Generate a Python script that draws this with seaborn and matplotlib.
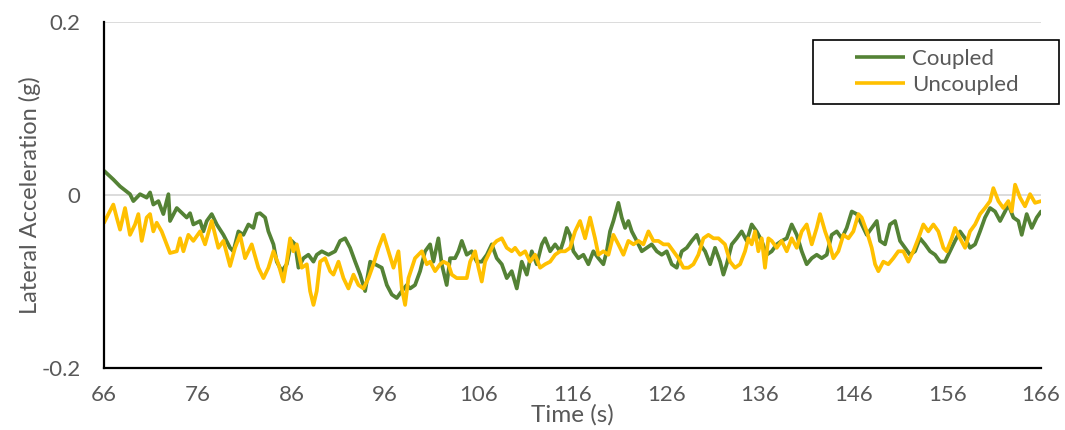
import matplotlib
matplotlib.use("Agg")
import matplotlib.pyplot as plt
from matplotlib.legend_handler import HandlerLine2D
import seaborn as sns
import pandas as pd

# Lateral acceleration traces (time in s, acceleration in g)
coupled_t = [66.0, 66.99, 67.71, 68.77, 69.13, 69.84, 70.55, 70.91, 71.26, 71.80, 72.33, 72.87, 73.04, 73.76,
             74.82, 75.18, 75.53, 76.25, 76.60, 76.96, 77.49, 78.03, 78.74, 79.45, 79.80, 80.34, 80.87, 81.41,
             81.94, 82.30, 82.65, 83.19, 83.54, 84.08, 84.43, 84.97, 85.50, 86.03, 86.39, 86.75, 87.28, 87.81,
             88.35, 88.70, 89.24, 89.95, 90.66, 91.19, 91.73, 92.26, 92.80, 93.33, 93.86, 94.40, 94.93, 95.64,
             96.18, 96.71, 97.24, 97.78, 98.31, 98.66, 99.19, 99.73, 100.26, 100.80, 101.15, 101.68, 102.04,
             102.57, 102.93, 103.46, 103.82, 104.18, 104.71, 105.24, 105.78, 106.31, 106.85, 107.38, 107.91,
             108.45, 108.98, 109.51, 110.05, 110.58, 111.12, 111.65, 112.18, 112.72, 113.07, 113.61, 114.14,
             114.67, 115.03, 115.39, 115.73, 116.09, 116.62, 117.16, 117.69, 118.22, 118.76, 119.29, 119.65,
             120.00, 120.36, 120.89, 121.25, 121.61, 121.96, 122.32, 122.85, 123.39, 123.92, 124.45, 124.99,
             125.52, 126.05, 126.59, 127.12, 127.66, 128.19, 128.72, 129.26, 129.61, 130.15, 130.68, 131.21,
             131.75, 132.10, 132.45, 132.99, 133.52, 134.05, 134.59, 135.12, 135.65, 136.19, 136.72, 137.26,
             137.79, 138.32, 138.86, 139.39, 139.93, 140.46, 140.99, 141.53, 142.06, 142.59, 143.13, 143.66,
             144.20, 144.73, 145.26, 145.80, 146.33, 146.86, 147.40, 147.93, 148.47, 148.81, 149.35, 149.88,
             150.42, 150.95, 151.48, 152.02, 152.55, 153.08, 153.62, 154.15, 154.69, 155.22, 155.75, 156.29,
             156.82, 157.35, 157.89, 158.42, 158.96, 159.49, 160.02, 160.56, 161.09, 161.63, 162.16, 162.51,
             163.05, 163.58, 163.94, 164.47, 165.01, 165.54, 166.0]
coupled_g = [0.028, 0.018, 0.010, 0.001, -0.007, 0.001, -0.003, 0.003, -0.011, -0.007, -0.022, 0.001, -0.030,
             -0.015, -0.026, -0.021, -0.034, -0.030, -0.042, -0.030, -0.022, -0.034, -0.046, -0.061, -0.065,
             -0.042, -0.046, -0.034, -0.038, -0.022, -0.021, -0.026, -0.042, -0.057, -0.077, -0.088, -0.080,
             -0.053, -0.057, -0.084, -0.073, -0.069, -0.077, -0.069, -0.065, -0.069, -0.065, -0.053, -0.050,
             -0.061, -0.077, -0.092, -0.111, -0.077, -0.080, -0.084, -0.104, -0.115, -0.119, -0.111, -0.104,
             -0.108, -0.104, -0.088, -0.065, -0.057, -0.077, -0.050, -0.080, -0.104, -0.073, -0.073, -0.065,
             -0.053, -0.069, -0.065, -0.077, -0.077, -0.069, -0.057, -0.073, -0.080, -0.096, -0.088, -0.108,
             -0.077, -0.092, -0.065, -0.080, -0.057, -0.050, -0.065, -0.057, -0.065, -0.053, -0.038, -0.046,
             -0.065, -0.073, -0.069, -0.080, -0.065, -0.073, -0.080, -0.065, -0.042, -0.030, -0.009, -0.026,
             -0.038, -0.030, -0.042, -0.053, -0.065, -0.061, -0.057, -0.065, -0.069, -0.065, -0.080, -0.084,
             -0.065, -0.061, -0.053, -0.046, -0.057, -0.065, -0.080, -0.061, -0.077, -0.092, -0.080, -0.057,
             -0.050, -0.042, -0.053, -0.034, -0.042, -0.053, -0.069, -0.065, -0.057, -0.053, -0.050, -0.034,
             -0.046, -0.065, -0.080, -0.073, -0.069, -0.073, -0.069, -0.046, -0.042, -0.050, -0.038, -0.019,
             -0.022, -0.034, -0.046, -0.038, -0.030, -0.053, -0.057, -0.034, -0.030, -0.053, -0.061, -0.069,
             -0.065, -0.050, -0.057, -0.065, -0.069, -0.077, -0.077, -0.065, -0.053, -0.042, -0.050, -0.061,
             -0.057, -0.042, -0.026, -0.015, -0.019, -0.030, -0.019, -0.011, -0.026, -0.030, -0.046, -0.022,
             -0.038, -0.026, -0.019]

uncoupled_t = [66.0, 66.46, 66.99, 67.35, 67.71, 68.24, 68.77, 69.31, 69.66, 70.02, 70.55, 70.91, 71.26, 71.62,
               72.15, 72.69, 73.04, 73.76, 74.11, 74.47, 75.00, 75.53, 76.25, 76.78, 77.49, 78.20, 78.74, 79.45,
               79.98, 80.52, 81.05, 81.76, 82.47, 83.01, 83.54, 84.08, 84.61, 85.14, 85.50, 85.86, 86.21, 86.57,
               87.10, 87.64, 87.99, 88.35, 88.70, 89.06, 89.59, 90.13, 90.48, 91.02, 91.55, 92.08, 92.62, 93.15,
               93.69, 94.22, 94.75, 95.29, 95.82, 96.35, 96.89, 97.42, 97.78, 98.13, 98.49, 98.85, 99.19, 99.91,
               100.44, 100.80, 101.33, 101.86, 102.22, 102.75, 103.11, 103.64, 104.18, 104.71, 105.07, 105.60,
               105.96, 106.31, 106.67, 107.20, 107.56, 107.91, 108.45, 108.98, 109.51, 109.87, 110.40, 110.94,
               111.47, 112.00, 112.54, 113.07, 113.61, 114.14, 114.67, 115.21, 115.74, 116.27, 116.80, 117.34,
               117.87, 118.40, 118.76, 119.29, 119.83, 120.36, 120.89, 121.43, 121.96, 122.50, 123.03, 123.56,
               124.10, 124.63, 125.16, 125.70, 126.23, 126.77, 127.30, 127.83, 128.37, 128.90, 129.43, 129.97,
               130.50, 131.04, 131.57, 132.27, 132.81, 133.34, 133.88, 134.41, 134.76, 135.12, 135.48, 135.83,
               136.19, 136.54, 136.90, 137.26, 137.79, 138.32, 138.86, 139.39, 139.93, 140.46, 140.99, 141.53,
               142.06, 142.42, 142.95, 143.31, 143.84, 144.37, 144.91, 145.44, 145.97, 146.51, 146.86, 147.40,
               147.93, 148.29, 148.64, 149.17, 149.70, 150.24, 150.77, 151.30, 151.84, 152.37, 152.91, 153.44,
               153.97, 154.51, 155.04, 155.58, 155.93, 156.47, 156.82, 157.35, 157.89, 158.42, 158.96, 159.49,
               160.02, 160.56, 160.91, 161.45, 161.98, 162.51, 162.87, 163.23, 163.76, 164.29, 164.83, 165.36,
               166.0]
uncoupled_g = [-0.032, -0.022, -0.011, -0.026, -0.040, -0.015, -0.046, -0.034, -0.022, -0.053, -0.026, -0.022,
               -0.042, -0.032, -0.042, -0.057, -0.067, -0.065, -0.050, -0.065, -0.046, -0.053, -0.042, -0.057,
               -0.030, -0.061, -0.053, -0.082, -0.061, -0.046, -0.073, -0.057, -0.084, -0.096, -0.084, -0.065,
               -0.080, -0.100, -0.077, -0.050, -0.065, -0.057, -0.084, -0.080, -0.111, -0.127, -0.111, -0.077,
               -0.073, -0.088, -0.092, -0.077, -0.096, -0.108, -0.092, -0.104, -0.108, -0.096, -0.080, -0.061,
               -0.046, -0.065, -0.084, -0.065, -0.108, -0.127, -0.096, -0.084, -0.073, -0.065, -0.080, -0.077,
               -0.088, -0.080, -0.077, -0.080, -0.092, -0.096, -0.096, -0.096, -0.077, -0.065, -0.084, -0.100,
               -0.077, -0.065, -0.057, -0.053, -0.050, -0.061, -0.065, -0.061, -0.069, -0.065, -0.077, -0.069,
               -0.084, -0.080, -0.077, -0.069, -0.065, -0.065, -0.061, -0.042, -0.030, -0.050, -0.026, -0.050,
               -0.069, -0.065, -0.069, -0.046, -0.057, -0.069, -0.053, -0.057, -0.053, -0.057, -0.042, -0.053,
               -0.053, -0.057, -0.057, -0.065, -0.073, -0.084, -0.084, -0.080, -0.069, -0.050, -0.046, -0.050,
               -0.050, -0.057, -0.077, -0.084, -0.080, -0.065, -0.050, -0.057, -0.042, -0.065, -0.050, -0.084,
               -0.050, -0.053, -0.061, -0.053, -0.065, -0.050, -0.061, -0.042, -0.034, -0.057, -0.038, -0.022,
               -0.042, -0.053, -0.073, -0.065, -0.046, -0.050, -0.042, -0.022, -0.026, -0.042, -0.061, -0.080,
               -0.088, -0.077, -0.080, -0.073, -0.065, -0.065, -0.077, -0.065, -0.050, -0.034, -0.042, -0.034,
               -0.042, -0.061, -0.065, -0.050, -0.038, -0.050, -0.061, -0.042, -0.034, -0.022, -0.015, -0.007,
               0.008, -0.007, -0.015, -0.007, -0.019, 0.012, -0.003, -0.013, 0.001, -0.009, -0.007]

series_names = ["Coupled", "Uncoupled"]
series_colors = ["#548235", "#FFC000"]
x_ticks = list(range(66, 167, 10))
y_ticks = [-0.2, 0, 0.2]
y_tick_labels = ["-0.2", "0", "0.2"]

df = pd.concat([
    pd.DataFrame({"Time": coupled_t, "Accel": coupled_g, "Series": series_names[0]}),
    pd.DataFrame({"Time": uncoupled_t, "Accel": uncoupled_g, "Series": series_names[1]}),
], ignore_index=True)


class InsetLineHandler(HandlerLine2D):
    """Legend line drawn in the right part of the handle box, leaving a blank margin on the left."""

    def __init__(self, lead_frac=0.4, **kw):
        super().__init__(**kw)
        self.lead_frac = lead_frac

    def create_artists(self, legend, orig_handle, xdescent, ydescent, width, height, fontsize, trans):
        shift = width * self.lead_frac
        artists = super().create_artists(legend, orig_handle, xdescent - shift, ydescent,
                                         width - shift, height, fontsize, trans)
        for a in artists:
            a.set_solid_capstyle("butt")
        return artists


sns.set_theme(style="white")
plt.rcParams["font.family"] = ["Lato", "DejaVu Sans"]
text_color = "#595959"

fig = plt.figure(figsize=(10.65, 4.30), dpi=100)
ax = fig.add_axes([0.0977, 0.144, 0.8798, 0.8048])

for y in (0, 0.2):
    ax.axhline(y, color="#d9d9d9", lw=1.3, zorder=0)

sns.lineplot(data=df, x="Time", y="Accel", hue="Series", hue_order=series_names,
             palette=series_colors, estimator=None, sort=False, lw=2.7, ax=ax)

ax.set_xlim(66, 166)
ax.set_ylim(-0.2, 0.2)
ax.set_xticks(x_ticks)
ax.set_xticklabels([str(t) for t in x_ticks])
ax.set_yticks(y_ticks)
ax.set_yticklabels(y_tick_labels)
ax.tick_params(axis="both", length=0, labelsize=16, colors=text_color)
ax.tick_params(axis="x", pad=12)
ax.tick_params(axis="y", pad=17)

for side in ("top", "right"):
    ax.spines[side].set_visible(False)
for side in ("left", "bottom"):
    ax.spines[side].set_color("black")
    ax.spines[side].set_linewidth(1.6)

ax.set_xlabel("Time (s)", fontsize=17.5, color=text_color)
ax.xaxis.set_label_coords(0.5, -0.105)
ax.set_ylabel("Lateral Acceleration (g)", fontsize=17, color=text_color)
ax.yaxis.set_label_coords(-0.079, 0.5)
ax.yaxis.label.set_va("center")

handles, labels = ax.get_legend_handles_labels()
leg = ax.legend(handles, labels, loc="upper left", mode="expand",
                bbox_to_anchor=(0.7634, 0.765, 0.2310, 0.142),
                bbox_transform=fig.transFigure, fontsize=16, frameon=True, fancybox=False,
                edgecolor="black", framealpha=1, handlelength=3.75, borderpad=0.4,
                labelspacing=0.28, borderaxespad=0, handletextpad=0.3,
                handler_map={h: InsetLineHandler(lead_frac=0.4) for h in handles})
leg.get_frame().set_linewidth(1.2)
for txt in leg.get_texts():
    txt.set_color(text_color)
for line in leg.get_lines():
    line.set_linewidth(2.6)

fig.savefig("out.png", dpi=100)
